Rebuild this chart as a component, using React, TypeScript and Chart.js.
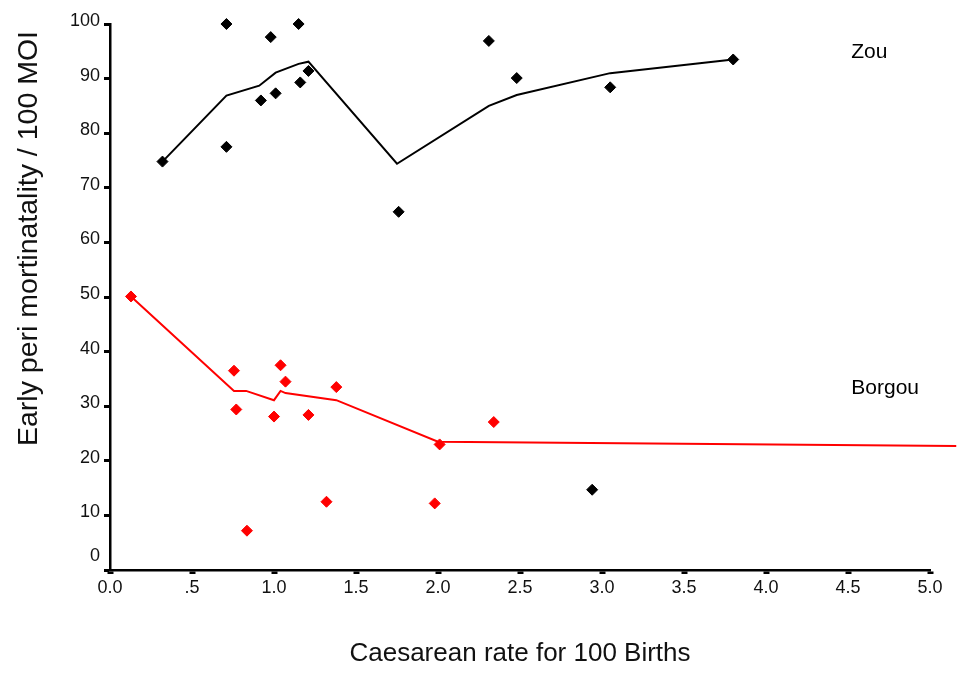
import React, { useEffect, useRef } from "react";
import { Chart, registerables } from "chart.js";

Chart.register(...registerables);

// ---- Data ----
// Zou (black) observed points
const zouX = [0.32, 0.71, 0.71, 0.92, 0.98, 1.01, 1.15, 1.16, 1.21, 1.76, 2.31, 2.48, 2.94, 3.05, 3.8];
const zouY = [74.8, 100, 77.5, 86.0, 97.6, 87.3, 100, 89.3, 91.4, 65.6, 96.9, 90.1, 14.7, 88.4, 93.5];
// Zou smoothed trend line
const zouLineX = [0.32, 0.71, 0.91, 1.01, 1.15, 1.21, 1.75, 2.31, 2.48, 3.05, 3.8];
const zouLineY = [74.8, 86.9, 88.7, 91.1, 92.7, 93.1, 74.4, 85.0, 87.0, 91.0, 93.5];

// Borgou (red) observed points
const borgouX = [0.128, 0.756, 0.77, 0.835, 1.0, 1.04, 1.07, 1.21, 1.32, 1.38, 1.98, 2.01, 2.34];
const borgouY = [50.1, 36.5, 29.4, 7.2, 28.1, 37.5, 34.5, 28.4, 12.5, 33.5, 12.2, 23.0, 27.1];
// Borgou smoothed trend line
const borgouLineX = [0.128, 0.756, 0.83, 1.0, 1.04, 1.07, 1.38, 2.0, 5.16];
const borgouLineY = [50.1, 32.8, 32.8, 31.1, 32.8, 32.4, 31.1, 23.5, 22.7];

const seriesNames = ["Zou", "Borgou"];
const seriesLabelPos = [
  { x: 4.52, y: 94.9 },
  { x: 4.52, y: 33.3 },
];

const xTitle = "Caesarean rate for 100 Births";
const yTitle = "Early peri mortinatality / 100 MOI";

const xMin = 0;
const xMax = 5;
const xStep = 0.5;
const yMin = 0;
const yMax = 100;
const yStep = 10;

const pts = (xs: number[], ys: number[]) => xs.map((x, i) => ({ x, y: ys[i] }));

const FONT = '"Liberation Sans", Arial, Helvetica, sans-serif';

const annotationPlugin = {
  id: "annotations",
  afterDraw(chart: any) {
    const { ctx, scales } = chart;
    ctx.save();
    ctx.fillStyle = "#000";
    ctx.font = `21px ${FONT}`;
    ctx.textAlign = "left";
    ctx.textBaseline = "middle";
    seriesNames.forEach((name, i) => {
      const p = seriesLabelPos[i];
      ctx.fillText(name, scales.x.getPixelForValue(p.x), scales.y.getPixelForValue(p.y));
    });
    // y-axis title
    ctx.translate(37, 238.5);
    ctx.rotate(-Math.PI / 2);
    ctx.font = `28.5px ${FONT}`;
    ctx.fillStyle = "#111";
    ctx.textAlign = "center";
    ctx.textBaseline = "alphabetic";
    ctx.fillText(yTitle, 0, 0);
    ctx.restore();
  },
};

export default function App() {
  const canvasRef = useRef<HTMLCanvasElement | null>(null);

  useEffect(() => {
    const canvas = canvasRef.current;
    if (!canvas) return;
    const chart = new Chart(canvas, {
      type: "scatter",
      data: {
        datasets: [
          {
            label: "Zou",
            data: pts(zouX, zouY),
            pointStyle: "rectRot",
            pointRadius: 5.5,
            pointBackgroundColor: "#000",
            pointBorderColor: "#000",
            pointBorderWidth: 1,
            showLine: false,
            clip: false,
            order: 1,
          },
          {
            label: "Zou trend",
            data: pts(zouLineX, zouLineY),
            showLine: true,
            borderColor: "#000",
            borderWidth: 2,
            pointRadius: 0,
            tension: 0,
            clip: false,
            order: 2,
          },
          {
            label: "Borgou",
            data: pts(borgouX, borgouY),
            pointStyle: "rectRot",
            pointRadius: 5.5,
            pointBackgroundColor: "#ff0000",
            pointBorderColor: "#ff0000",
            pointBorderWidth: 1,
            showLine: false,
            clip: false,
            order: 1,
          },
          {
            label: "Borgou trend",
            data: pts(borgouLineX, borgouLineY),
            showLine: true,
            borderColor: "#ff0000",
            borderWidth: 2,
            pointRadius: 0,
            tension: 0,
            clip: false,
            order: 2,
          },
        ],
      },
      options: {
        responsive: false,
        animation: false,
        layout: { padding: { top: 24, right: 27, left: 0, bottom: 0 } },
        plugins: {
          legend: { display: false },
          tooltip: { enabled: false },
        },
        scales: {
          x: {
            type: "linear",
            min: xMin,
            max: xMax,
            afterFit: (scale: any) => {
              scale.height = 103;
            },
            border: { display: true, color: "#000", width: 2.5 },
            grid: {
              display: true,
              drawOnChartArea: false,
              drawTicks: true,
              tickLength: 4,
              tickWidth: 6,
              tickColor: "#000",
            },
            ticks: {
              stepSize: xStep,
              padding: 3,
              color: "#111",
              font: { family: FONT, size: 18 },
              maxRotation: 0,
              callback: (v: any) => {
                const n = Number(v);
                if (n > 0 && n < 1) return "." + n.toFixed(1).split(".")[1];
                return n.toFixed(1);
              },
            },
            title: {
              display: true,
              text: xTitle,
              color: "#111",
              font: { family: FONT, size: 26 },
              padding: { top: 0, bottom: 3.5 },
            },
          },
          y: {
            type: "linear",
            min: yMin,
            max: yMax,
            afterFit: (scale: any) => {
              scale.width = 110;
            },
            border: { display: true, color: "#000", width: 2.5 },
            grid: {
              display: true,
              drawOnChartArea: false,
              drawTicks: true,
              tickLength: 6,
              tickWidth: 3,
              tickColor: "#000",
            },
            ticks: {
              stepSize: yStep,
              padding: 4,
              labelOffset: -3,
              color: "#111",
              font: { family: FONT, size: 18 },
              callback: (v: any) => (Number(v) === 0 ? ["0", ""] : String(v)),
            },
          },
        },
      },
      plugins: [annotationPlugin],
    });
    return () => chart.destroy();
  }, []);

  return (
    <div style={{ position: "fixed", left: 0, top: 0, width: 957, height: 673, background: "#fff" }}>
      <canvas ref={canvasRef} width={957} height={673} style={{ display: "block" }} />
    </div>
  );
}
